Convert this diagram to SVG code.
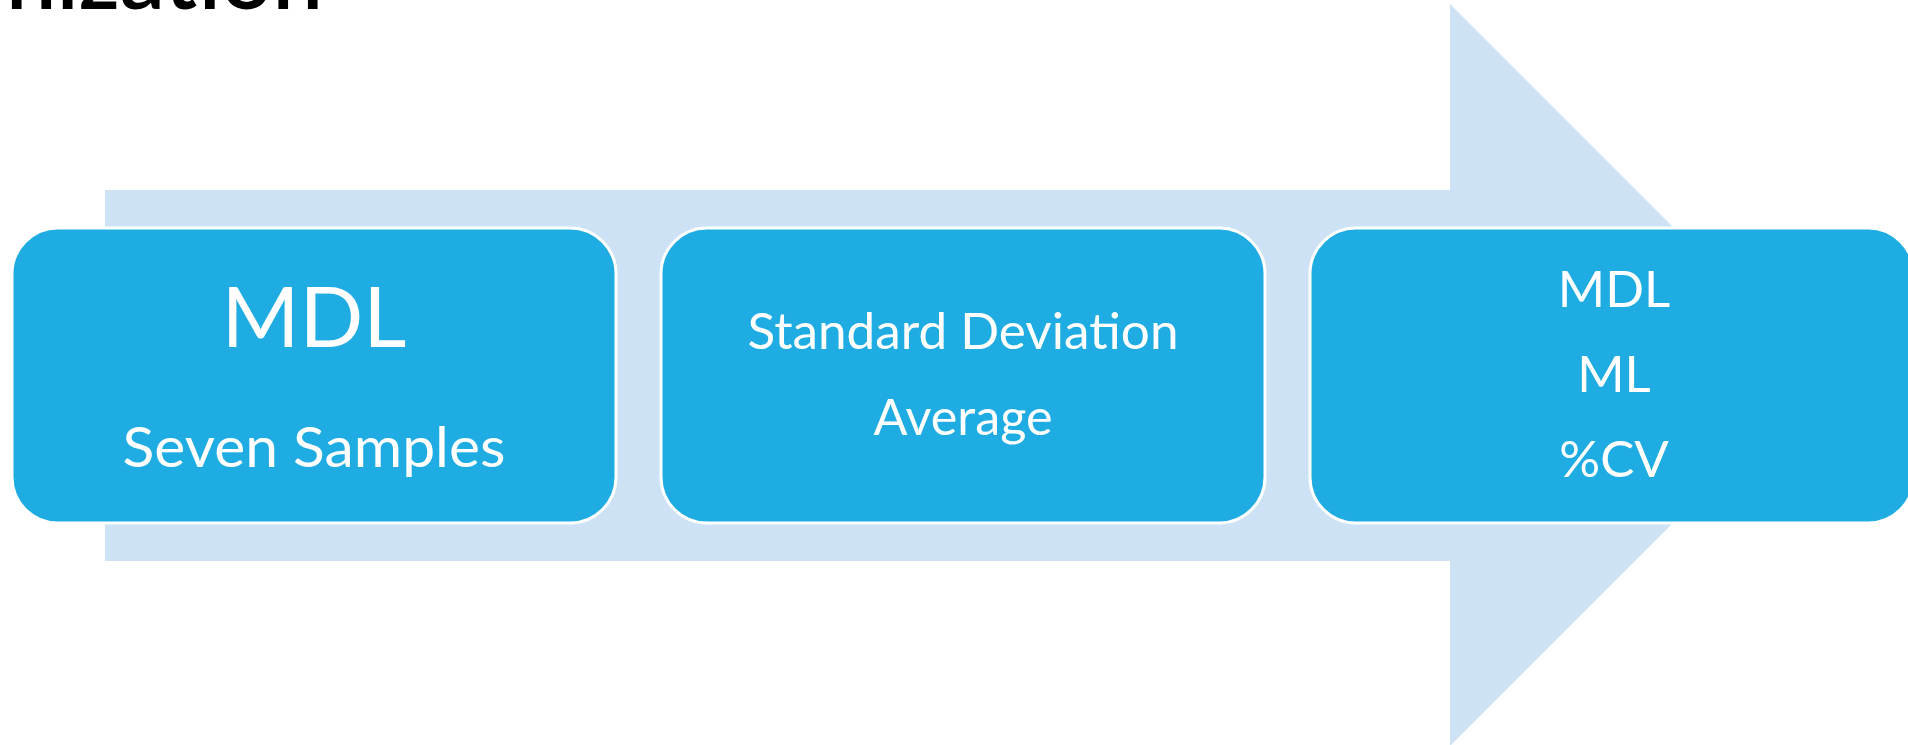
<svg xmlns="http://www.w3.org/2000/svg" width="1908" height="745" viewBox="0 0 1908 745">
  <style>
    .band { fill: #CDE2F4; }
    .box { fill: #1EACE2; stroke: #FFFFFF; stroke-width: 3; }
    .lbl { font-family: Lato, "Open Sans", "Liberation Sans", sans-serif; fill: #FFFFFF; text-anchor: middle; }
    .title { font-family: Lato, "Open Sans", "Liberation Sans", sans-serif; fill: #000000; font-weight: 600; }
  </style>
  <rect width="1908" height="745" fill="#FFFFFF"/>

  <!-- title, mostly above the top edge -->
  <text class="title" x="323" y="9" font-size="90" text-anchor="end">nization</text>

  <!-- background process arrow -->
  <g id="connectors">
    <polygon class="band" points="105,190 1450,190 1450,4 1821,375 1450,746 1450,561 105,561"/>
  </g>

  <g id="step-samples">
    <rect class="box" x="12" y="228" width="604" height="295" rx="46" ry="46"/>
    <text class="lbl" x="314" y="347" font-size="84">MDL</text>
    <text class="lbl" x="314" y="467" font-size="56" textLength="383" lengthAdjust="spacingAndGlyphs">Seven Samples</text>
  </g>

  <g id="step-statistics">
    <rect class="box" x="661" y="228" width="604" height="295" rx="46" ry="46"/>
    <text class="lbl" x="963" y="349" font-size="51" textLength="431" lengthAdjust="spacingAndGlyphs">Standard Deviation</text>
    <text class="lbl" x="963" y="435" font-size="51" textLength="179" lengthAdjust="spacingAndGlyphs">Average</text>
  </g>

  <g id="step-results">
    <rect class="box" x="1310" y="228" width="604" height="295" rx="46" ry="46"/>
    <text class="lbl" x="1614" y="307" font-size="51">MDL</text>
    <text class="lbl" x="1614" y="392" font-size="51">ML</text>
    <text class="lbl" x="1614" y="477" font-size="51">%CV</text>
  </g>
</svg>
